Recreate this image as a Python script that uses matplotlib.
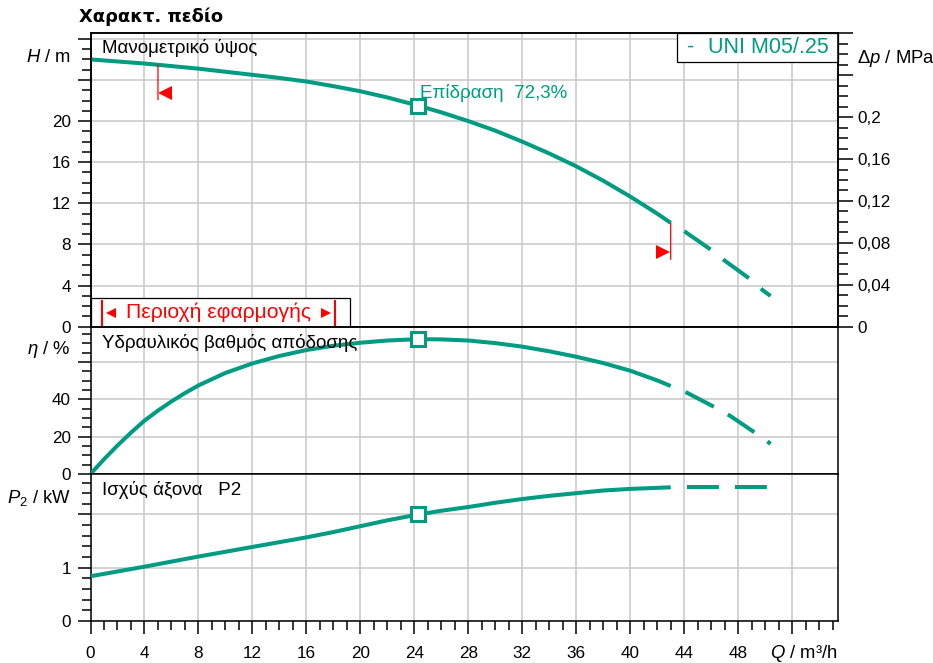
import matplotlib
matplotlib.use('Agg')
import matplotlib.pyplot as plt
from matplotlib.ticker import MultipleLocator
from matplotlib.patches import Rectangle
import matplotlib.transforms as mtransforms

plt.rcParams['font.family'] = ['Liberation Sans', 'DejaVu Sans']
plt.rcParams['mathtext.fontset'] = 'custom'
plt.rcParams['mathtext.rm'] = 'Liberation Sans'
plt.rcParams['mathtext.it'] = 'Liberation Sans:italic'
plt.rcParams['lines.scale_dashes'] = False

TEAL = '#009c82'
GRID = '#c8c8c8'
RED = '#ff0000'

# ---------------- data ----------------
q_head = [0, 2, 4, 6, 8, 10, 12, 14, 16, 18, 20, 22, 24.3, 26, 28, 30, 32, 34, 36, 38, 40, 42, 43]
head = [26.0, 25.8, 25.6, 25.35, 25.1, 24.8, 24.5, 24.2, 23.85, 23.4, 22.9, 22.3, 21.5, 20.85,
        20.0, 19.07, 18.0, 16.85, 15.6, 14.2, 12.66, 11.0, 10.1]
q_head_ext = [43, 44.05, 46.0, 47.0, 48.9, 49.8, 50.4]
head_ext = [10.1, 9.25, 7.47, 6.43, 4.62, 3.57, 2.99]

q_eff = [0, 1, 2, 3, 4, 5, 6, 7, 8, 10, 12, 14, 16, 18, 20, 22, 24.3, 26, 28, 30, 32, 34, 36,
         38, 40, 42, 43]
eff = [0, 7.9, 15.3, 22.2, 28.6, 34.0, 38.9, 43.4, 47.5, 54.2, 59.3, 63.3, 66.5, 68.8, 70.4,
       71.6, 72.3, 72.2, 71.6, 70.2, 68.3, 65.8, 62.9, 59.5, 55.4, 50.2, 47.2]
q_eff_ext = [43, 44.2, 46.3, 47.4, 49.2, 49.9, 50.4]
eff_ext = [47.2, 43.6, 35.7, 31.2, 22.4, 19.1, 16.1]

q_pow = [0, 2, 4, 6, 8, 10, 12, 14, 16, 18, 20, 22, 24.3, 26, 28, 30, 32, 34, 36, 38, 40, 42, 43]
power = [0.84, 0.93, 1.02, 1.115, 1.21, 1.30, 1.39, 1.48, 1.57, 1.67, 1.78, 1.89, 2.0, 2.07,
         2.14, 2.22, 2.29, 2.35, 2.40, 2.45, 2.48, 2.50, 2.51]
q_pow_ext = [43, 50.4]
power_ext = [2.51, 2.51]

duty_q = 24.3
duty_head = 21.5
duty_eff = 72.3
duty_power = 2.0
q_min, q_max = 5.0, 43.0

x_ticks = list(range(0, 53, 4))
x_labels = [str(v) for v in range(0, 49, 4)]
h_ticks = list(range(0, 29, 4))
h_labels = ['0', '4', '8', '12', '16', '20']
dp_ticks = [0, 0.04, 0.08, 0.12, 0.16, 0.2, 0.24, 0.28]
dp_labels = ['0', '0,04', '0,08', '0,12', '0,16', '0,2']
eff_ticks = [0, 20, 40, 60]
eff_labels = ['0', '20', '40']
pow_ticks = [0, 1, 2]
pow_labels = ['0', '1']

X_MAX = 55.4
H_MAX = 28.54
EFF_MAX = 79
P_MAX = 2.76
MPA_PER_M = 0.00981

# ---------------- figure ----------------
W, Hpx = 933, 663
fig = plt.figure(figsize=(W / 100, Hpx / 100), dpi=100)
L, R = 90.5 / W, 838 / W


def yf(px):
    return 1 - px / Hpx


ax_h = fig.add_axes([L, yf(326.7), R - L, yf(33.3) - yf(326.7)])
ax_e = fig.add_axes([L, yf(474), R - L, yf(326.7) - yf(474)], sharex=ax_h)
ax_p = fig.add_axes([L, yf(621), R - L, yf(474) - yf(621)], sharex=ax_h)

FS = 12.3
UFS = 13.3
NFS = 13.5
MAJ, MIN = 9.5, 6.3


def style(ax, ticks, labels, minor, ymax):
    ax.set_ylim(0, ymax)
    ax.set_yticks(ticks)
    ax.set_yticklabels(labels + [''] * (len(ticks) - len(labels)))
    ax.yaxis.set_minor_locator(MultipleLocator(minor))
    ax.set_axisbelow(True)
    ax.grid(True, which='major', color=GRID, lw=1.1)
    for s in ax.spines.values():
        s.set_linewidth(1.1)
        s.set_color('black')
    ax.tick_params(axis='y', which='major', length=MAJ, width=1.1, labelsize=FS, pad=4.7)
    ax.tick_params(axis='y', which='minor', length=MIN, width=1.1)


style(ax_h, h_ticks, h_labels, 1, H_MAX)
style(ax_e, eff_ticks, eff_labels, 5, EFF_MAX)
style(ax_p, pow_ticks, pow_labels, 0.2, P_MAX)

ax_h.set_xlim(0, X_MAX)
ax_p.set_xticks(x_ticks)
ax_p.set_xticklabels(x_labels + [''] * (len(x_ticks) - len(x_labels)))
ax_p.xaxis.set_minor_locator(MultipleLocator(1))
ax_p.tick_params(axis='x', which='major', length=MAJ, width=1.1, labelsize=FS, pad=8.2)
ax_p.tick_params(axis='x', which='minor', length=MIN, width=1.1)
for ax in (ax_h, ax_e):
    ax.tick_params(axis='x', which='both', bottom=False, labelbottom=False)

# right pressure axis
ax_dp = ax_h.twinx()
ax_dp.set_ylim(0, H_MAX * MPA_PER_M)
ax_dp.set_yticks(dp_ticks)
ax_dp.set_yticklabels(dp_labels + [''] * (len(dp_ticks) - len(dp_labels)))
ax_dp.yaxis.set_minor_locator(MultipleLocator(0.01))
ax_dp.tick_params(axis='y', which='major', length=10.8, width=1.1, labelsize=FS, pad=2.8)
ax_dp.tick_params(axis='y', which='minor', length=7.2, width=1.1)
for s in ax_dp.spines.values():
    s.set_linewidth(1.1)

# ---------------- curves ----------------
LW = 2.9
DASH = (23, (23, 11.5))
for ax, qs, ys, qe, ye, dy in ((ax_h, q_head, head, q_head_ext, head_ext, duty_head),
                               (ax_e, q_eff, eff, q_eff_ext, eff_ext, duty_eff),
                               (ax_p, q_pow, power, q_pow_ext, power_ext, duty_power)):
    ax.plot(qs, ys, color=TEAL, lw=LW, solid_capstyle='butt', solid_joinstyle='round', zorder=3)
    ax.plot(qe, ye, color=TEAL, lw=LW, linestyle=DASH, dash_capstyle='butt',
            dash_joinstyle='round', zorder=3)
    ax.plot([duty_q], [dy], marker='s', ms=9.5, mfc='white', mec=TEAL, mew=2.2, zorder=4)

# duty label
ax_h.annotate('Επίδραση  72,3%', xy=(duty_q, duty_head), xytext=(1.3, 12.7),
              textcoords='offset pixels', ha='left', va='center', color=TEAL, fontsize=13.5,
              zorder=5)

# operating range markers
for qv, tri, dx, dyl, dyt in ((q_min, '<', 7.5, -35, -28), (q_max, '>', -7.5, -36.6, -29.3)):
    hv = None
    for i in range(len(q_head) - 1):
        if q_head[i] <= qv <= q_head[i + 1]:
            t = (qv - q_head[i]) / (q_head[i + 1] - q_head[i])
            hv = head[i] + t * (head[i + 1] - head[i])
    ax_h.annotate('', xy=(qv, hv), xytext=(0, dyl), textcoords='offset pixels',
                  arrowprops=dict(arrowstyle='-', color=RED, lw=0.9, shrinkA=0, shrinkB=0),
                  zorder=5)
    tr = ax_h.transData + mtransforms.ScaledTranslation(dx / 100, dyt / 100, fig.dpi_scale_trans)
    ax_h.plot([qv], [hv], marker=tri, ms=10.5, color=RED, mec=RED, mew=0, transform=tr, zorder=5)

# panel names
ax_h.text(0.015, 0.95, 'Μανομετρικό ύψος', transform=ax_h.transAxes, ha='left', va='center',
          fontsize=NFS, zorder=6)
ax_e.text(0.015, 0.887, 'Υδραυλικός βαθμός απόδοσης', transform=ax_e.transAxes, ha='left',
          va='center', fontsize=NFS, zorder=6)
ax_p.text(0.015, 0.891, 'Ισχύς άξονα   P2', transform=ax_p.transAxes, ha='left', va='center',
          fontsize=NFS, zorder=6)

# axis unit labels
ax_h.text(-0.0265, 0.919, '$H$ / m', transform=ax_h.transAxes, ha='right', va='center',
          fontsize=UFS)
ax_e.text(-0.0265, 0.842, r'$\eta$ / %', transform=ax_e.transAxes, ha='right', va='center',
          fontsize=UFS)
ax_p.text(-0.0265, 0.835, '$P_2$ / kW', transform=ax_p.transAxes, ha='right', va='center',
          fontsize=UFS)
ax_h.text(1.025, 0.915, r'$\Delta p$ / MPa', transform=ax_h.transAxes, ha='left', va='center',
          fontsize=UFS)
fig.text(838 / W, yf(658.3), '$Q$ / m³/h', ha='right', va='baseline', fontsize=UFS)

# legend box
ax_h.add_patch(Rectangle((0.7845, 0.903), 1 - 0.7845, 0.097, transform=ax_h.transAxes,
                         facecolor='white', edgecolor='black', lw=0.9, zorder=6, clip_on=False))
ax_h.text(0.7975, 0.951, '-', transform=ax_h.transAxes, ha='left', va='center', color=TEAL,
          fontsize=15.5, zorder=7)
ax_h.text(0.8265, 0.951, 'UNI M05/.25', transform=ax_h.transAxes, ha='left', va='center',
          color=TEAL, fontsize=15.5, zorder=7)

# application range box
ax_h.add_patch(Rectangle((0, 0), 0.3465, 0.0968, transform=ax_h.transAxes, facecolor='white',
                         edgecolor='black', lw=0.9, zorder=6))
for xb in (0.0154, 0.327):
    ax_h.plot([xb, xb], [0.0034, 0.0886], transform=ax_h.transAxes, color=RED, lw=1.5, zorder=7)
ax_h.plot([0.0274], [0.0457], marker='<', ms=7, color=RED, mew=0, transform=ax_h.transAxes,
          zorder=7)
ax_h.plot([0.3153], [0.0457], marker='>', ms=7, color=RED, mew=0, transform=ax_h.transAxes,
          zorder=7)
ax_h.text(0.1706, 0.048, 'Περιοχή εφαρμογής', transform=ax_h.transAxes, ha='center',
          va='center', color=RED, fontsize=15.2, zorder=7)

# title
fig.text(79 / W, yf(17), 'Χαρακτ. πεδίο', ha='left', va='center', fontsize=12.9,
         fontweight='bold', family='DejaVu Sans')

fig.savefig('out.png', dpi=100)
